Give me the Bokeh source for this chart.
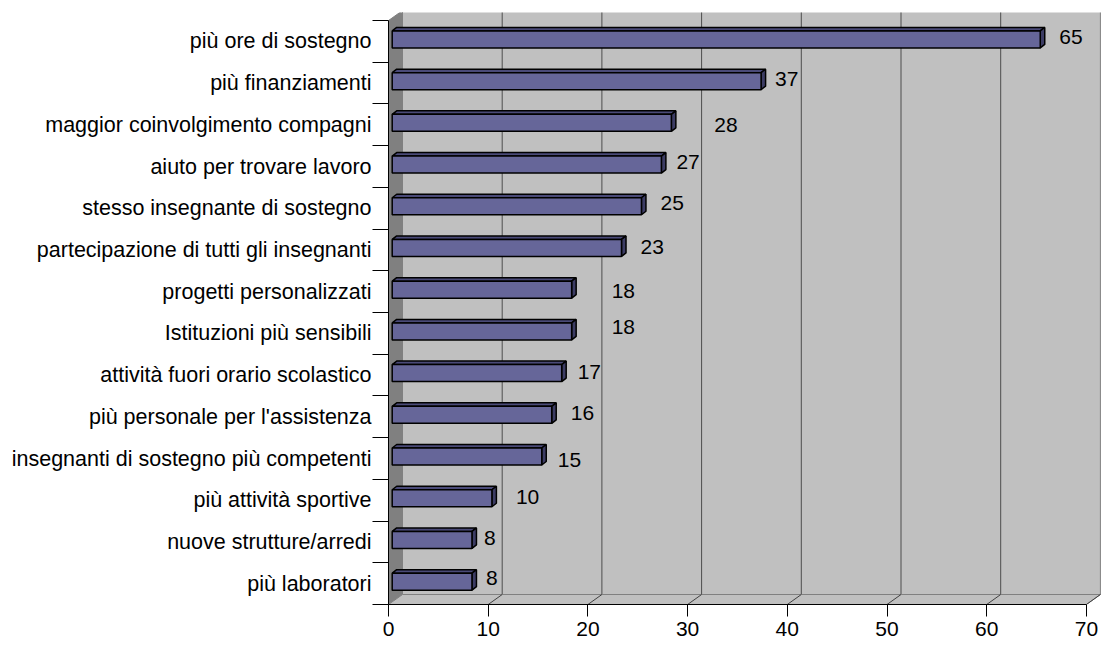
from bokeh.plotting import figure
from bokeh.models import Range1d, FixedTicker, ColumnDataSource
from bokeh.embed import file_html
from bokeh.resources import INLINE
from bokeh.core.properties import value

# ---------------- data ----------------
categories = [
    "più ore di sostegno",
    "più finanziamenti",
    "maggior coinvolgimento compagni",
    "aiuto per trovare lavoro",
    "stesso insegnante di sostegno",
    "partecipazione di tutti gli insegnanti",
    "progetti personalizzati",
    "Istituzioni più sensibili",
    "attività fuori orario scolastico",
    "più personale per l'assistenza",
    "insegnanti di sostegno più competenti",
    "più attività sportive",
    "nuove strutture/arredi",
    "più laboratori",
]
values = [65, 37, 28, 27, 25, 23, 18, 18, 17, 16, 15, 10, 8, 8]
x_ticks = [0, 10, 20, 30, 40, 50, 60, 70]

# ---------------- style (pixels) ----------------
label_dx_px = [19, 14, 43, 15, 19, 19, 40, 40, 16, 19, 16, 24, 12, 14]
label_dy_px = [-4, -4, 0, -5, -5, -3, -1, -6, -3, -4, 1, -3, -4, -6]

FONT = "Liberation Sans"
PX_X = 9.97      # pixels per x unit
PX_Y = 41.71     # pixels per category band
W, H = 1103, 645
LEFT, RIGHT, TOP, BOTTOM = 388, 1, 12, 41
KX = 1.0 / PX_X
KY = 1.0 / PX_Y
X_END = (W - LEFT - RIGHT) * KX
Y_END = (H - TOP - BOTTOM) * KY
N = len(categories)
XMAX = x_ticks[-1]

DEPTH_X = 14 * KX      # 3D wall depth
DEPTH_Y = 10 * KY
BAR_SHIFT_X = 3.7 * KX
BAR_CENTER_UP = 2 * KY
BAR_HALF = 8.5 * KY
BAR_DX = 4.5 * KX
BAR_DY = 3.5 * KY

p = figure(width=W, height=H, x_range=Range1d(0, X_END), y_range=Range1d(0, Y_END),
           output_backend="svg", toolbar_location=None,
           min_border_left=LEFT, min_border_right=RIGHT,
           min_border_top=TOP, min_border_bottom=BOTTOM)
p.xgrid.visible = False
p.ygrid.visible = False
p.outline_line_color = None
p.background_fill_color = "white"
p.border_fill_color = "white"

# back wall
p.quad(left=[DEPTH_X], right=[XMAX + DEPTH_X], bottom=[DEPTH_Y], top=[N + DEPTH_Y],
       fill_color="#c0c0c0", line_color="#808080", line_width=1)
# gridlines on back wall
gx = [t + DEPTH_X for t in x_ticks[1:-1]]
p.segment(x0=gx, y0=[DEPTH_Y] * len(gx), x1=gx, y1=[N + DEPTH_Y] * len(gx),
          line_color="#4d4d4d", line_width=1)
# left wall
p.patch(x=[0, DEPTH_X, DEPTH_X, 0], y=[0, DEPTH_Y, N + DEPTH_Y, N],
        fill_color="#808080", line_color="#808080", line_width=1)
# floor
p.patch(x=[0, XMAX, XMAX + DEPTH_X, DEPTH_X], y=[0, 0, DEPTH_Y, DEPTH_Y],
        fill_color="#c0c0c0", line_color="#808080", line_width=1)
fx = x_ticks[1:]
p.segment(x0=fx, y0=[0] * len(fx), x1=[t + DEPTH_X for t in fx], y1=[DEPTH_Y] * len(fx),
          line_color="#404040", line_width=1)

# bars
centers = [N - 0.5 - i for i in range(N)]
xl = [BAR_SHIFT_X] * N
xr = [v + BAR_SHIFT_X for v in values]
yc = [c + BAR_CENTER_UP for c in centers]
yb = [c - BAR_HALF for c in yc]
yt = [c + BAR_HALF for c in yc]

top_xs = [[a, a + BAR_DX, b + BAR_DX, b] for a, b in zip(xl, xr)]
top_ys = [[t, t + BAR_DY, t + BAR_DY, t] for t in yt]
end_xs = [[b, b + BAR_DX, b + BAR_DX, b] for b in xr]
end_ys = [[t, t + BAR_DY, bo + BAR_DY, bo] for t, bo in zip(yt, yb)]
p.patches(xs=top_xs, ys=top_ys, fill_color="#4a4a78", line_color="black", line_width=1.5)
p.patches(xs=end_xs, ys=end_ys, fill_color="#3c3c64", line_color="black", line_width=1.5)
src = ColumnDataSource(dict(left=xl, right=xr, bottom=yb, top=yt))
p.quad(left="left", right="right", bottom="bottom", top="top", source=src,
       fill_color="#666699", line_color="black", line_width=1.5)

# value labels
lx = [b + dx * KX for b, dx in zip(xr, label_dx_px)]
ly = [c - dy * KY for c, dy in zip(centers, label_dy_px)]
lsrc = ColumnDataSource(dict(x=lx, y=ly, t=[str(v) for v in values]))
p.text(x="x", y="y", text="t", source=lsrc, text_font=value(FONT),
       text_font_size="21px", text_color="black", text_align="left",
       text_baseline="middle")

# x axis
xa = p.xaxis[0]
xa.ticker = FixedTicker(ticks=x_ticks)
xa.bounds = (0, XMAX)
xa.axis_line_color = "black"
xa.major_tick_line_color = "black"
xa.major_tick_out = 12
xa.major_tick_in = 0
xa.minor_tick_out = 0
xa.minor_tick_in = 0
xa.major_label_standoff = 5
xa.major_label_text_font = FONT
xa.major_label_text_font_size = "21px"
xa.major_label_text_color = "black"

# y axis (category labels centred, ticks between categories)
ya = p.yaxis[0]
ya.ticker = FixedTicker(ticks=centers, minor_ticks=list(range(0, N + 1)))
ya.major_label_overrides = {c: lab for c, lab in zip(centers, categories)}
ya.bounds = (0, N)
ya.axis_line_color = "black"
ya.major_tick_out = 0
ya.major_tick_in = 0
ya.minor_tick_out = 16
ya.minor_tick_in = 0
ya.minor_tick_line_color = "black"
ya.major_label_standoff = 1
ya.major_label_text_font = FONT
ya.major_label_text_font_size = "21.5px"
ya.major_label_text_color = "black"

open("out.html", "w").write(file_html(p, INLINE))
